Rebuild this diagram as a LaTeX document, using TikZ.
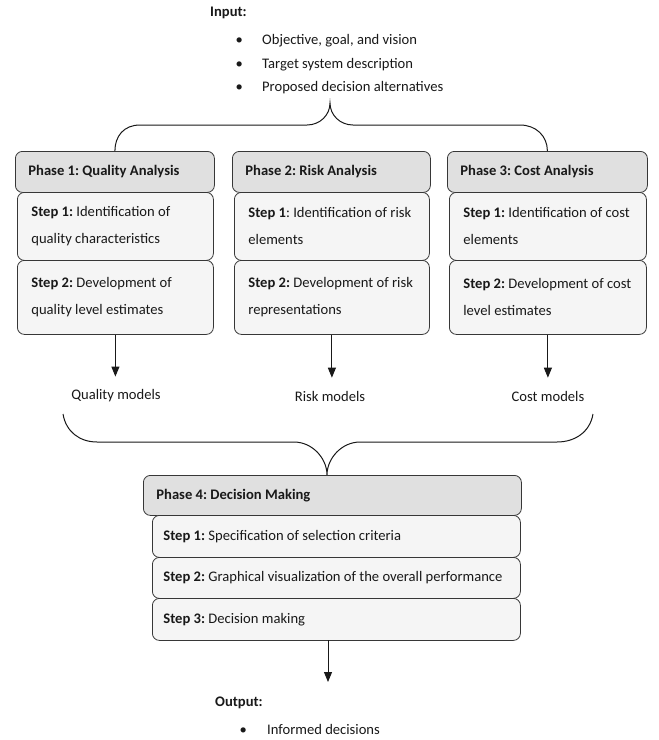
\documentclass[tikz,border=0pt]{standalone}
\usepackage{fontspec}
\setmainfont{Carlito}
\usetikzlibrary{arrows.meta}
\definecolor{hdrfill}{RGB}{224,224,224}
\definecolor{stepfill}{RGB}{245,245,245}
\definecolor{edge}{RGB}{55,55,55}
\definecolor{ink}{RGB}{25,25,25}
\frenchspacing
\begin{document}
\begin{tikzpicture}[x=1pt,y=-1pt,
  box/.style={draw=edge, line width=0.8pt, rounded corners=7pt, anchor=north west, align=flush left, inner ysep=2pt, text=ink, font=\fontsize{14.6}{27}\selectfont},
  hdrbox/.style={box, fill=hdrfill, inner xsep=13pt},
  stepbox/.style={box, fill=stepfill, inner xsep=14pt},
  dstep/.style={box, fill=stepfill, inner xsep=11pt},
  lbl/.style={text=ink, font=\fontsize{14.6}{20}\selectfont, inner sep=2pt},
  txt/.style={text=ink, inner sep=0pt, anchor=west, align=flush left},
  arr/.style={draw=ink, line width=1pt, -{Triangle[length=10pt,width=8pt]}},
  brace/.style={draw=ink, line width=1pt}]
\useasboundingbox (0,0) rectangle (659,740);
\fill[white] (0,0) rectangle (659,740);

% input
\node[txt, font=\fontsize{14.6}{20}\selectfont] (inlabel) at (210,13) {\textbf{Input:}};
\node[txt, font=\fontsize{14.6}{23.5}\selectfont] (inlist) at (235.5,64.5)
  {\mbox{\makebox[26.5pt][l]{•}Objective, goal, and vision}\\
   \mbox{\makebox[26.5pt][l]{•}Target system description}\\
   \mbox{\makebox[26.5pt][l]{•}Proposed decision alternatives}};

% phase 1
\node[hdrbox, minimum width=199pt, minimum height=41pt, text width=173pt] (p1) at (15,151) {\mbox{\textbf{Phase 1: Quality Analysis}}};
\node[stepbox, minimum width=196pt, minimum height=68pt, text width=168pt] (q1) at (17,192) {\mbox{\textbf{Step 1:} Identification of}\\\mbox{quality characteristics}};
\node[stepbox, minimum width=196pt, minimum height=74pt, text width=168pt] (q2) at (17,260) {\mbox{\textbf{Step 2:} Development of}\\\mbox{quality level estimates}};

% phase 2
\node[hdrbox, minimum width=198pt, minimum height=41pt, text width=172pt] (p2) at (232,151) {\mbox{\textbf{Phase 2: Risk Analysis}}};
\node[stepbox, minimum width=195pt, minimum height=68pt, text width=167pt] (r1) at (234,192) {\mbox{\textbf{Step 1}: Identification of risk}\\\mbox{elements}};
\node[stepbox, minimum width=195pt, minimum height=74pt, text width=167pt] (r2) at (234,260) {\mbox{\textbf{Step 2:} Development of risk}\\\mbox{representations}};

% phase 3
\node[hdrbox, minimum width=200pt, minimum height=41pt, text width=174pt] (p3) at (447,151) {\mbox{\textbf{Phase 3: Cost Analysis}}};
\node[stepbox, minimum width=197pt, minimum height=68pt, text width=169pt] (c1) at (449,192) {\mbox{\textbf{Step 1:} Identification of cost}\\\mbox{elements}};
\node[stepbox, minimum width=197pt, minimum height=74pt, text width=169pt] (c2) at (449,260) {\mbox{\textbf{Step 2:} Development of cost}\\\mbox{level estimates}};

% upper brace
\draw[brace] (p1.north) .. controls (p1.north |- 0,136) and (124,125) .. (140,125)
  -- (307,125) .. controls (320,125) and (330,115) .. (330,103)
  .. controls (330,115) and (340,125) .. (353,125)
  -- (520,125) .. controls (536,125) and (p3.north |- 0,136) .. (p3.north);

% models
\node[lbl] (qm) at (116,396) {Quality models};
\node[lbl] (rm) at (330,396) {Risk models};
\node[lbl] (cm) at (548,396) {Cost models};
\draw[arr, shorten >=11pt] (q2.south) -- (q2.south |- qm.north);
\draw[arr, shorten >=11pt] (r2.south) -- (r2.south |- rm.north);
\draw[arr, shorten >=11pt] (c2.south) -- (c2.south |- cm.north);

% lower brace
\coordinate (lbl) at (63,414);
\coordinate (lbr) at (593,414);
\coordinate (btip) at (327,475);
\draw[brace] (lbl) .. controls (66,432) and (80,442) .. (97,442)
  -- (294,442) .. controls (312,442) and (327,458) .. (btip)
  .. controls (327,458) and (342,442) .. (360,442)
  -- (557,442) .. controls (575,442) and (590,432) .. (lbr);

% phase 4
\node[hdrbox, minimum width=378pt, minimum height=40pt, text width=352pt] (p4) at (143,475) {\mbox{\textbf{Phase 4: Decision Making}}};
\node[dstep, minimum width=368pt, minimum height=42pt, text width=346pt] (d1) at (152,515) {\mbox{\textbf{Step 1:} Specification of selection criteria}};
\node[dstep, minimum width=368pt, minimum height=41pt, text width=346pt] (d2) at (152,557) {\mbox{\textbf{Step 2:} Graphical visualization of the overall performance}};
\node[dstep, minimum width=368pt, minimum height=42pt, text width=346pt] (d3) at (152,598) {\mbox{\textbf{Step 3:} Decision making}};

% output
\coordinate (oa) at (328,640);
\coordinate (ob) at (328,682);
\draw[arr] (oa) -- (ob);
\node[txt, font=\fontsize{14.6}{20}\selectfont] (outlabel) at (215,703) {\textbf{Output:}};
\node[txt, font=\fontsize{14.6}{20}\selectfont] (outlist) at (239.5,729) {\mbox{\makebox[27.5pt][l]{•}Informed decisions}};
\end{tikzpicture}
\end{document}
